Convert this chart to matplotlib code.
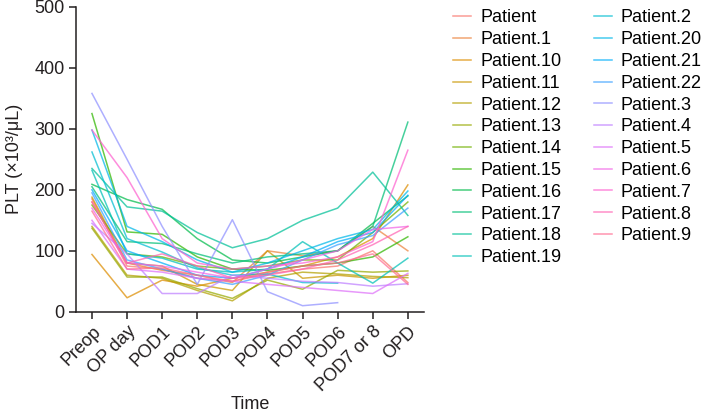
import numpy as np
import matplotlib
matplotlib.use("Agg")
import matplotlib.pyplot as plt

plt.rcParams["font.family"] = ["Liberation Sans", "DejaVu Sans"]

time_labels = ["Preop", "OP day", "POD1", "POD2", "POD3", "POD4", "POD5",
               "POD6", "POD7 or 8", "OPD"]

nan = np.nan
patient_names = ["Patient", "Patient.1", "Patient.10", "Patient.11", "Patient.12",
                 "Patient.13", "Patient.14", "Patient.15", "Patient.16", "Patient.17",
                 "Patient.18", "Patient.19", "Patient.2", "Patient.20", "Patient.21",
                 "Patient.22", "Patient.3", "Patient.4", "Patient.5", "Patient.6",
                 "Patient.7", "Patient.8", "Patient.9"]

p_00 = [185, 75, 70, 55, 50, 62, 70, 75, 100, 48]
p_01 = [180, 80, 68, 60, 48, 100, 92, 100, 140, 100]
p_10 = [94, 23, 52, 42, 55, 65, 75, 90, 120, 208]
p_11 = [188, 80, 75, 45, 35, 100, 55, 60, 55, 60]
p_12 = [140, 60, 55, 35, 18, 55, 65, 62, 58, 56]
p_13 = [137, 57, 57, 38, 22, 52, 37, 68, 65, 67]
p_14 = [175, 95, 90, 75, 70, 75, 85, 85, 130, 180]
p_15 = [325, 131, 127, 90, 70, 68, 75, 80, 90, 123]
p_16 = [209, 184, 168, 120, 85, 80, 90, 100, 145, 190]
p_17 = [205, 115, 112, 95, 80, 90, 95, 100, 140, 311]
p_18 = [235, 172, 165, 130, 105, 120, 150, 170, 229, 158]
p_19 = [232, 95, 88, 70, 65, 70, 115, 80, 47, 88]
p_2 = [262, 120, 98, 72, 60, 62, 48, 47, nan, nan]
p_20 = [298, 140, 115, 85, 65, 80, 100, 120, 135, 198]
p_21 = [200, 100, 80, 60, 55, 70, 90, 115, 130, 191]
p_22 = [195, 85, 70, 55, 45, 60, 85, 110, 125, 170]
p_3 = [358, 250, 140, 45, 151, 33, 10, 15, nan, nan]
p_4 = [145, 95, 30, 30, 60, 55, 50, 48, 42, 46]
p_5 = [150, 70, 65, 55, 50, 45, 40, 35, 30, 63]
p_6 = [170, 80, 75, 65, 55, 70, 85, 100, 135, 140]
p_7 = [298, 220, 120, 80, 70, 75, 80, 90, 115, 265]
p_8 = [180, 80, 95, 75, 55, 60, 70, 85, 110, 140]
p_9 = [165, 70, 72, 60, 50, 65, 75, 80, 95, 45]

series = [p_00, p_01, p_10, p_11, p_12, p_13, p_14, p_15, p_16, p_17, p_18,
          p_19, p_2, p_20, p_21, p_22, p_3, p_4, p_5, p_6, p_7, p_8, p_9]


def hcl_color(h, c=100.0, l=65.0):
    # polar Luv -> sRGB (ggplot-style hue palette)
    hr = np.deg2rad(h)
    u, v = c * np.cos(hr), c * np.sin(hr)
    xn, yn, zn = 0.95047, 1.0, 1.08883
    un = 4 * xn / (xn + 15 * yn + 3 * zn)
    vn = 9 * yn / (xn + 15 * yn + 3 * zn)
    y = yn * ((l + 16) / 116) ** 3
    up = u / (13 * l) + un
    vp = v / (13 * l) + vn
    x = y * 9 * up / (4 * vp)
    z = y * (12 - 3 * up - 20 * vp) / (4 * vp)
    m = np.array([[3.2404542, -1.5371385, -0.4985314],
                  [-0.9692660, 1.8760108, 0.0415560],
                  [0.0556434, -0.2040259, 1.0572252]])
    rgb = m @ np.array([x, y, z])
    rgb = np.where(rgb <= 0.0031308, 12.92 * rgb,
                   1.055 * np.clip(rgb, 0, None) ** (1 / 2.4) - 0.055)
    return tuple(np.clip(rgb, 0, 1))


n = len(patient_names)
hues = np.linspace(15, 375, n + 1)[:n]
colors = [hcl_color(h) for h in hues]

fig = plt.figure(figsize=(7.02, 4.13), dpi=100)
ax = fig.add_axes([0.108, 0.245, 0.496, 0.7385])

xpos = np.arange(len(time_labels))
for name, vals, col in zip(patient_names, series, colors):
    ax.plot(xpos, vals, color=col, linewidth=1.1, alpha=0.72, label=name)

ink = "#231f20"
ax.set_xlim(-0.46, len(time_labels) - 1 + 0.46)
ax.set_ylim(0, 500)
ax.set_yticks([0, 100, 200, 300, 400, 500])
ax.set_xticks(xpos)
ax.set_xticklabels(time_labels, rotation=45, ha="right", rotation_mode="anchor")
for s in ["top", "right"]:
    ax.spines[s].set_visible(False)
for s in ["left", "bottom"]:
    ax.spines[s].set_color(ink)
    ax.spines[s].set_linewidth(1.1)
ax.tick_params(axis="both", direction="out", length=5, width=1.1, color=ink,
               labelsize=13, labelcolor=ink, pad=3)

ax.set_xlabel("Time", fontsize=13, color=ink, labelpad=1)
ax.set_ylabel("PLT (×10³/μL)", fontsize=13, color=ink, labelpad=8)

fig.legend(loc="upper left", bbox_to_anchor=(0.6455, 0.977), ncol=2,
           frameon=False, fontsize=13, handlelength=1.0, handletextpad=0.5,
           columnspacing=1.8, labelspacing=0.265, borderpad=0, borderaxespad=0)

fig.savefig("out.png", dpi=100)
plt.close(fig)
